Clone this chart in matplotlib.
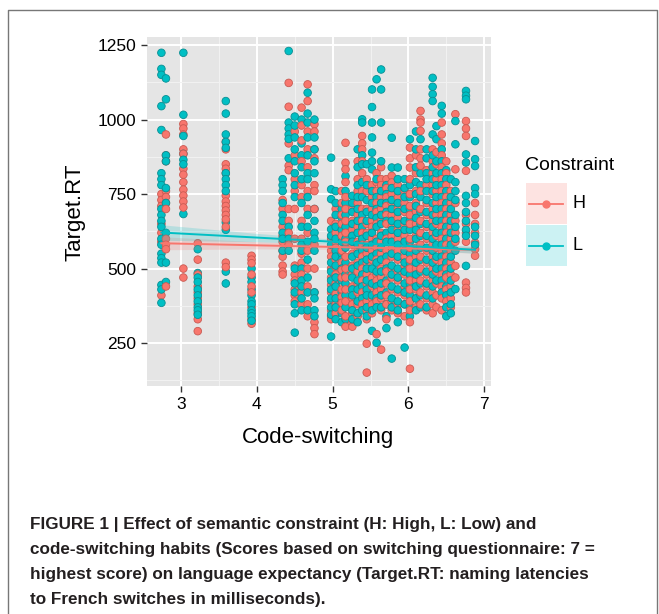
import matplotlib
matplotlib.use("Agg")
import matplotlib.pyplot as plt
from matplotlib.patches import Rectangle
from matplotlib.lines import Line2D

plt.rcParams['font.family'] = ['Liberation Sans', 'DejaVu Sans']

# code-switching score of each participant (one column of trials each)
cs_score = [2.74, 2.80, 3.03, 3.22, 3.59, 3.93, 4.34, 4.42, 4.50, 4.59,
            4.67, 4.76, 4.98, 5.04, 5.12, 5.17, 5.26, 5.33, 5.39, 5.45,
            5.52, 5.58, 5.64, 5.71, 5.78, 5.86, 5.95, 6.02, 6.10, 6.16,
            6.24, 6.32, 6.37, 6.44, 6.50, 6.56, 6.62, 6.76, 6.88]

# Target.RT (ms), high constraint
rt_H = [
    [750, 730, 710, 650, 620, 590, 410],
    [950, 880, 860, 760, 740, 720, 700, 600, 580, 565, 440],
    [985, 970, 950, 900, 885, 835, 815, 790, 765, 745, 725, 705, 500, 470],
    [585, 530, 480, 440, 420, 400, 380, 350, 330, 290],
    [925, 900, 850, 835, 820, 745, 725, 710, 695, 680, 665, 640, 520, 505],
    [543, 530, 518, 480, 440, 420, 370, 330, 315],
    [730, 700, 640, 610, 590, 560, 540, 510, 490, 480],
    [1123, 1043, 920, 845, 830, 700, 660, 620, 580],
    [960, 880, 800, 760, 700, 600, 510, 480, 460, 430, 410, 390],
    [1040, 980, 930, 860, 780, 740, 660, 600, 550, 520, 480, 420, 380],
    [1118, 1062, 960, 900, 840, 760, 700, 620, 560, 500, 440, 380, 340],
    [984, 960, 900, 870, 780, 760, 700, 580, 500, 420, 320, 300, 280],
    [660, 600, 560, 540, 500, 470, 445, 420, 390, 360, 340, 330],
    [700, 650, 620, 590, 570, 530, 505, 480, 450, 415, 380, 350],
    [760, 720, 680, 650, 610, 560, 520, 495, 470, 430, 405, 385, 360],
    [922, 855, 833, 790, 740, 700, 660, 620, 590, 540, 500, 470, 430, 390, 340, 305],
    [700, 660, 630, 580, 550, 510, 480, 440, 400, 380, 350, 320, 305],
    [860, 800, 760, 720, 680, 640, 590, 560, 520, 490, 450, 420, 380, 340],
    [945, 920, 900, 860, 820, 760, 700, 660, 620, 580, 540, 500, 460, 420, 380],
    [800, 760, 700, 650, 620, 580, 550, 520, 480, 450, 420, 390, 360, 330, 248, 151],
    [780, 740, 700, 660, 640, 600, 560, 530, 500, 470, 440, 400, 380, 350],
    [820, 790, 760, 720, 690, 650, 600, 570, 530, 480, 460, 420, 390, 280],
    [840, 800, 780, 740, 700, 660, 620, 590, 550, 500, 470, 430, 400, 360, 228],
    [800, 770, 740, 710, 680, 650, 600, 560, 520, 490, 450, 410, 380, 330],
    [811, 789, 750, 720, 680, 640, 610, 570, 540, 500, 470, 430, 390, 360],
    [780, 740, 700, 670, 630, 600, 560, 530, 490, 460, 420, 380, 350],
    [760, 720, 690, 650, 610, 580, 540, 510, 480, 440, 410, 380, 340],
    [906, 870, 839, 800, 750, 710, 680, 650, 600, 570, 530, 500, 460, 430, 390, 360, 320, 164],
    [880, 820, 760, 720, 690, 650, 610, 570, 540, 500, 460, 430, 400, 370],
    [1029, 1000, 990, 962, 900, 870, 845, 760, 700, 660, 620, 580, 540, 500, 460, 420, 380],
    [830, 780, 720, 680, 640, 600, 560, 520, 480, 440, 400, 360],
    [900, 860, 820, 780, 750, 700, 660, 620, 580, 540, 500, 460, 420, 380, 350],
    [890, 850, 800, 760, 720, 680, 650, 610, 570, 530, 490, 450, 410, 370],
    [990, 950, 920, 880, 840, 800, 760, 720, 680, 640, 600, 560, 520, 480, 440, 400, 360],
    [860, 820, 780, 740, 700, 660, 620, 580, 540, 500, 470, 430, 390],
    [760, 720, 680, 640, 600, 560, 520, 480, 440, 400, 370],
    [1018, 833, 720, 660, 620, 590, 509, 470],
    [995, 970, 945, 828, 680, 650, 620, 590, 453, 435, 420],
    [720, 680, 650, 620, 587, 565, 543],
]

# Target.RT (ms), low constraint
rt_L = [
    [1224, 1170, 1150, 1045, 965, 820, 800, 780, 700, 680, 660, 640, 600, 580,
     550, 535, 520, 445, 430, 385],
    [1138, 1068, 880, 860, 770, 720, 620, 520, 455],
    [1224, 1016, 945, 885, 865, 850, 683],
    [565, 485, 470, 455, 430, 410, 390, 370, 360, 345],
    [1062, 1020, 950, 925, 905, 820, 800, 780, 760, 655, 630, 490, 450],
    [500, 470, 455, 430, 410, 390, 380, 360, 350, 340, 325],
    [800, 780, 760, 720, 680, 660, 620, 600, 560],
    [1230, 990, 970, 950, 935, 870, 640, 600, 560],
    [1010, 980, 940, 900, 860, 820, 780, 740, 500, 450, 420, 380, 350, 285],
    [1000, 920, 880, 840, 800, 720, 640, 580, 560, 500, 460, 440, 400, 360],
    [1090, 1020, 990, 940, 880, 820, 800, 740, 680, 640, 590, 530, 470, 420, 360],
    [1000, 940, 900, 860, 820, 700, 660, 620, 600, 560, 420, 400, 360, 340],
    [872, 766, 733, 632, 610, 580, 520, 490, 460, 430, 400, 370, 345, 272],
    [760, 720, 680, 640, 600, 560, 540, 510, 470, 440, 400, 370, 330],
    [700, 670, 630, 590, 550, 530, 500, 460, 420, 390, 350, 320],
    [810, 760, 720, 680, 640, 600, 570, 520, 480, 450, 410, 370, 330],
    [744, 720, 690, 650, 610, 590, 540, 500, 470, 430, 410, 360, 330],
    [900, 840, 780, 740, 700, 660, 620, 580, 550, 510, 460, 430, 390, 350, 320],
    [1001, 990, 880, 850, 790, 740, 680, 640, 600, 560, 520, 480, 440, 400, 360],
    [850, 780, 730, 690, 660, 610, 570, 530, 500, 460, 430, 410, 370, 340],
    [1101, 1042, 990, 940, 889, 860, 833, 760, 720, 680, 620, 580, 540, 500,
     450, 410, 360, 291],
    [1135, 800, 740, 700, 670, 640, 590, 550, 520, 490, 440, 400, 370, 251],
    [1168, 1101, 990, 860, 760, 720, 680, 650, 610, 570, 530, 490, 450, 410, 370],
    [780, 750, 720, 690, 660, 620, 590, 540, 500, 460, 420, 380, 340, 300],
    [939, 839, 770, 730, 700, 660, 630, 590, 550, 510, 480, 440, 400, 370, 198],
    [839, 800, 760, 720, 690, 650, 620, 580, 540, 500, 470, 430, 390, 360, 320],
    [800, 770, 740, 700, 660, 630, 590, 560, 520, 490, 450, 420, 380, 235],
    [934, 780, 740, 700, 660, 630, 590, 550, 520, 480, 450, 410, 370, 340],
    [960, 900, 840, 790, 750, 710, 670, 630, 600, 560, 520, 480, 440, 400, 360],
    [934, 820, 780, 740, 690, 650, 610, 570, 530, 490, 450, 410, 370],
    [900, 870, 820, 800, 760, 730, 690, 650, 610, 570, 530, 490, 450, 410, 370],
    [1140, 1110, 1085, 1062, 950, 880, 840, 800, 760, 720, 680, 640, 600, 560,
     520, 480, 440, 400],
    [978, 934, 860, 820, 780, 740, 700, 660, 620, 580, 540, 500, 460],
    [1046, 1020, 900, 860, 820, 780, 740, 700, 660, 620, 580, 540, 500, 460, 420],
    [830, 800, 760, 720, 680, 640, 600, 560, 520, 480, 440, 410, 370, 340],
    [800, 740, 700, 660, 620, 580, 540, 500, 460, 420, 380, 350],
    [995, 917, 790, 760, 730, 680, 640, 600, 560, 431],
    [1096, 1080, 1068, 883, 856, 744, 720, 690, 660, 630, 610, 509],
    [928, 867, 844, 770, 750, 640, 610, 580],
]

# linear fits (lm) with confidence band half-widths
fit_x = [2.74, 4.0, 5.3, 6.88]
fit_H = [585, 578, 571, 563]
fit_L = [621, 604, 586, 563]
band_H = [22, 12, 7, 11]
band_L = [26, 14, 7, 12]

groups = ["H", "L"]
red = "#F8766D"
teal = "#00BFC4"

fig = plt.figure(figsize=(6.59, 6.14), dpi=100)
fig.patch.set_facecolor("white")

# outer frame of the figure box
fig.add_artist(Line2D([8 / 659, 8 / 659, 657 / 659, 657 / 659],
                      [0, 1 - 10 / 614, 1 - 10 / 614, 0],
                      transform=fig.transFigure, color="#777777", lw=1.0))

ax = fig.add_axes([147 / 659, 1 - 386 / 614, 344 / 659, 349 / 614])
ax.set_facecolor("#E5E5E5")
for s in ax.spines.values():
    s.set_visible(False)

# interleave the two constraint groups so neither colour sits on top
xs, ys, cs, es = [], [], [], []
for x, h, l in zip(cs_score, rt_H, rt_L):
    for i in range(max(len(h), len(l))):
        if i < len(h):
            xs.append(x); ys.append(h[i]); cs.append(red); es.append("#c95a52")
        if i < len(l):
            xs.append(x); ys.append(l[i]); cs.append(teal); es.append("#0a8f93")
ax.scatter(xs, ys, c=cs, s=30, edgecolors=es, linewidths=0.6, zorder=3)

lo_H = [f - b for f, b in zip(fit_H, band_H)]
hi_H = [f + b for f, b in zip(fit_H, band_H)]
lo_L = [f - b for f, b in zip(fit_L, band_L)]
hi_L = [f + b for f, b in zip(fit_L, band_L)]
ax.fill_between(fit_x, lo_H, hi_H, color=red, alpha=0.2, lw=0, zorder=4)
ax.fill_between(fit_x, lo_L, hi_L, color=teal, alpha=0.2, lw=0, zorder=4)
ax.plot(fit_x, fit_H, color=red, lw=1.4, zorder=5)
ax.plot(fit_x, fit_L, color=teal, lw=1.4, zorder=5)

ax.set_xlim(2.55, 7.09)
ax.set_ylim(106, 1277)
ax.set_xticks([3, 4, 5, 6, 7])
ax.set_yticks([250, 500, 750, 1000, 1250])
ax.set_xticks([3.5, 4.5, 5.5, 6.5], minor=True)
ax.set_yticks([125, 375, 625, 875, 1125], minor=True)
ax.grid(True, which="major", color="white", lw=1.4, zorder=0)
ax.grid(True, which="minor", color="#F2F2F2", lw=0.7, zorder=0)
ax.set_axisbelow(True)
ax.tick_params(which="major", length=4, width=1, color="#333333",
               labelsize=12.5, labelcolor="black", pad=4)
ax.tick_params(which="minor", length=0)

fig.text(318 / 659, 1 - 437 / 614, "Code-switching", ha="center", va="center",
         fontsize=16)
fig.text(75 / 659, 1 - 212 / 614, "Target.RT", ha="center", va="center",
         rotation=90, fontsize=16)

# legend
fig.text(525 / 659, 1 - 166 / 614, "Constraint", ha="left", va="center",
         fontsize=14)
key_top = [183, 225]
for g, col, top in zip(groups, [red, teal], key_top):
    fig.add_artist(Rectangle((526 / 659, 1 - (top + 41) / 614), 41 / 659, 41 / 614,
                             transform=fig.transFigure, facecolor=col,
                             alpha=0.2, lw=0))
    yc = 1 - (top + 21) / 614
    fig.add_artist(Line2D([529 / 659, 563 / 659], [yc, yc],
                          transform=fig.transFigure, color=col, lw=1.3))
    fig.add_artist(Line2D([546 / 659], [yc], transform=fig.transFigure,
                          marker="o", ms=5, color=col, lw=0))
    fig.text(572 / 659, yc, g, ha="left", va="center", fontsize=13)

caption = ["FIGURE 1 | Effect of semantic constraint (H: High, L: Low) and",
           "code-switching habits (Scores based on switching questionnaire: 7 =",
           "highest score) on language expectancy (Target.RT: naming latencies",
           "to French switches in milliseconds)."]
for i, line in enumerate(caption):
    fig.text(30 / 659, 1 - (524 + 25.3 * i) / 614, line, ha="left", va="center",
             fontsize=12.3, fontweight="bold", color="#231f20")

fig.savefig("out.png", dpi=100)
